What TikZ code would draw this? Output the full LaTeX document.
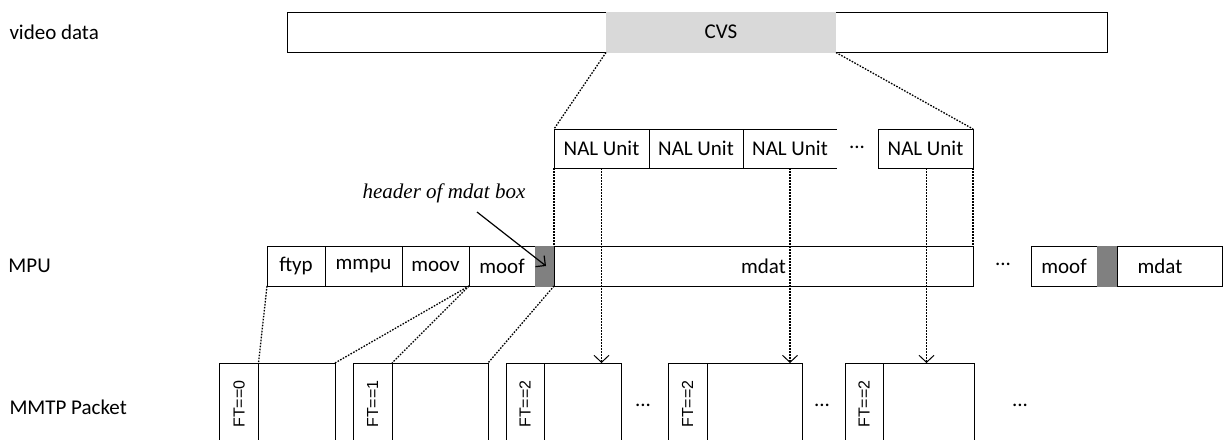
\documentclass[tikz,border=0pt]{standalone}
\usepackage{fontspec}
\setmainfont{Carlito}
\newfontfamily\serifit{Liberation Serif}
\newfontfamily\arialf{Liberation Sans}
\usetikzlibrary{arrows.meta}
\definecolor{cvsgray}{HTML}{D9D9D9}
\definecolor{hdrgray}{HTML}{808080}
\begin{document}
\begin{tikzpicture}[x=1pt,y=-1pt,
  font=\fontsize{21}{25}\selectfont,
  line width=1pt,
  box/.style={draw, inner sep=0pt, outer sep=0pt, minimum height=40pt},
  w/.style={minimum width=#1pt},
  hdrbox/.style={box, fill=hdrgray, draw=hdrgray},
  pkt/.style={draw, inner sep=0pt, outer sep=0pt, minimum height=82pt},
  ftlabel/.style={font=\arialf\fontsize{16}{19}\selectfont, rotate=90, inner sep=0pt},
  dotline/.style={dash pattern=on 1.6pt off 1.4pt, line width=1.3pt},
  dotarrow/.style={dotline, -{Straight Barb[length=7pt,width=15pt,line width=1pt]}},
  solidarrow/.style={line width=1.2pt, -{Straight Barb[length=7pt,width=14pt,line width=1.2pt]}},
  lbl/.style={anchor=west, inner sep=0pt}
]
\useasboundingbox (0,0) rectangle (1225,439);
\clip (0,0) rectangle (1225,439);

% left labels
\node[lbl] (lvideo) at (9,32) {video data};
\node[lbl] (lmpu) at (8,266) {MPU};
\node[lbl] (lmmtp) at (9,407) {MMTP Packet};

% video data bar
\node[box, w=820] (vbar) at (697,32) {};
\node[fill=cvsgray, inner sep=0pt, outer sep=0pt, minimum width=230pt, minimum height=41pt] (cvs) at (721,32) {CVS};

% NAL units
\node[box, w=95, minimum height=39pt] (nal1) at (601.5,148.5) {NAL Unit};
\node[box, w=94, minimum height=39pt] (nal2) at (696,148.5) {NAL Unit};
\node[inner sep=0pt, outer sep=0pt, minimum width=94pt, minimum height=39pt] (nal3) at (790,148.5) {NAL Unit};
\draw (nal3.north west) -- (nal3.north east);
\draw (nal3.south west) -- (nal3.south east);
\node (ndots) at (857,147) {...};
\node[box, w=95, minimum height=39pt] (nal4) at (925.5,148.5) {NAL Unit};

% MPU
\node[box, w=58] (ftyp) at (296,266) {ftyp};
\node[box, w=77] (mmpu) at (363.5,266) {mmpu};
\node[box, w=67] (moov) at (435.5,266) {moov};
\node[box, w=66] (moof) at (502,266) {moof};
\node[hdrbox, w=19] (hdr) at (544.5,266) {};
\node[box, w=419] (mdat) at (763.5,266) {mdat};
\node (mdots) at (1003,264) {...};
\node[box, w=66] (moof2) at (1064,266) {moof};
\node[hdrbox, w=20] (hdr2) at (1107,266) {};
\node[box, w=105] (mdat2) at (1169.5,266) {mdat\hspace*{19pt}};

% header label
\node[font=\serifit\itshape\fontsize{21}{25}\selectfont, inner sep=0pt] (hlabel) at (444,193) {header of mdat box};
\coordinate (hstart) at (477,212);
\draw[solidarrow] (hstart) -- (546,266);

% MMTP packets
\node[pkt, w=39] (ft1) at (239,404) {};
\node[pkt, w=77] (b1) at (296.5,404) {};
\node[ftlabel] at (ft1.center) {FT==0};
\node[pkt, w=39] (ft2) at (372.5,404) {};
\node[pkt, w=96] (b2) at (440,404) {};
\node[ftlabel] at (ft2.center) {FT==1};
\node[pkt, w=38] (ft3) at (525,404) {};
\node[pkt, w=77] (b3) at (582.5,404) {};
\node[ftlabel] at (ft3.center) {FT==2};
\node (pdots1) at (643,405) {...};
\node[pkt, w=39] (ft4) at (687.5,404) {};
\node[pkt, w=95] (b4) at (754.5,404) {};
\node[ftlabel] at (ft4.center) {FT==2};
\node (pdots2) at (822,405) {...};
\node[pkt, w=38] (ft5) at (864,404) {};
\node[pkt, w=91] (b5) at (928.5,404) {};
\node[ftlabel] at (ft5.center) {FT==2};
\node (pdots3) at (1020,405) {...};

% dotted connectors
\draw[dotline] (cvs.south west) -- (nal1.north west);
\draw[dotline] (cvs.south east) -- (nal4.north east);
\draw[dotline] (nal1.south west) -- (mdat.north west);
\draw[dotline] (nal4.south east) -- (mdat.north east);
\draw[dotline] (ftyp.south west) -- (ft1.north east);
\draw[dotline] (moof.south west) -- (b1.north east);
\draw[dotline] (moof.south west) -- (ft2.north east);
\draw[dotline] (hdr.south east) -- (b2.north east);

% arrows NAL -> packets
\draw[dotarrow] (nal1.south) -- (nal1.south |- b3.north);
\draw[dotarrow] (nal3.south) -- (nal3.south |- b4.north);
\draw[dotarrow] ([xshift=1pt]nal4.south) -- ([xshift=1pt]nal4.south |- b5.north);
\end{tikzpicture}
\end{document}
